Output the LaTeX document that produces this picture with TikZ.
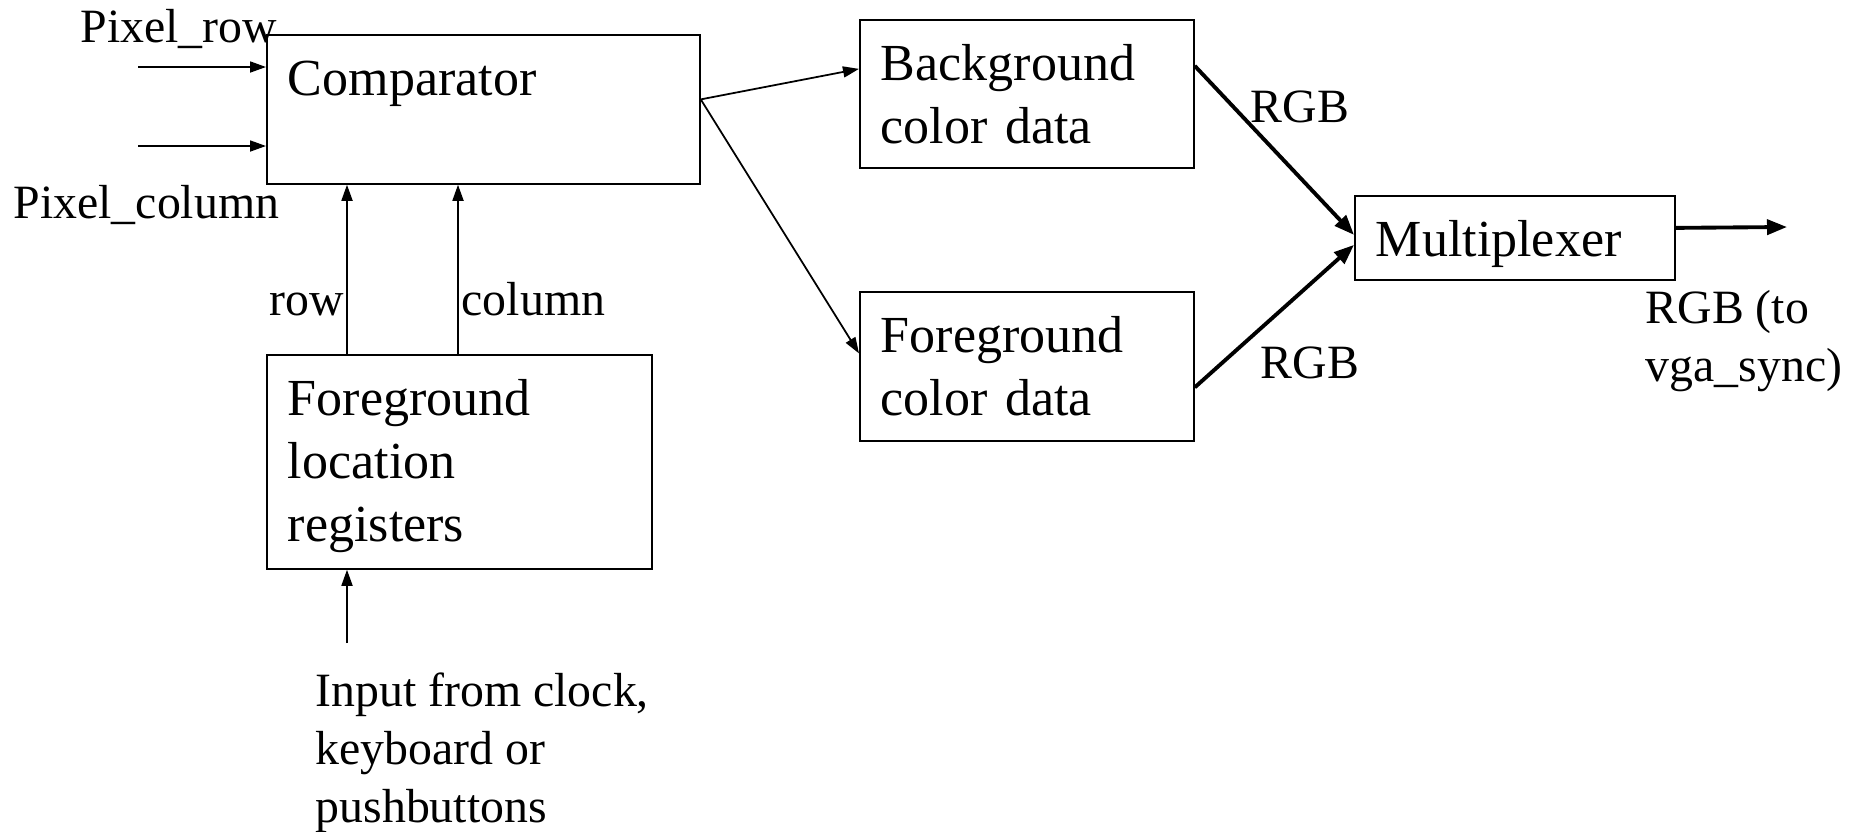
\documentclass[tikz,border=0pt]{standalone}
\usepackage{fontspec}
\setmainfont{Liberation Serif}
\usetikzlibrary{arrows.meta}
\newcommand{\bigtxt}{\fontsize{14.8pt}{17.9pt}\selectfont}
\newcommand{\smalltxt}{\fontsize{13.6pt}{16.5pt}\selectfont}
\tikzset{
  blk/.style={draw, line width=0.5pt, anchor=north west, align=left,
    inner xsep=0.21cm, inner ysep=0pt, text height=0.61cm, font=\bigtxt},
  lbl/.style={anchor=base west, inner sep=0pt, align=left, font=\smalltxt},
  sig/.style={-{Triangle[length=0.16cm, width=0.11cm]}, line width=0.5pt},
  bus/.style={-{Triangle[length=0.2cm, width=0.15cm]}, line width=1.1pt},
}

\begin{document}
\begin{tikzpicture}
    \useasboundingbox (0,0) rectangle (18.62,-8.31);
    % blocks
    \node[blk, text width=3.91cm, text depth=0.88cm] (cmp) at (2.66,-0.34) {Comparator};
    \node[blk, text width=3.43cm, text depth=1.53cm] (flr) at (2.66,-3.54) {Foreground\\location\\registers};
    \node[blk, text width=2.92cm, text depth=0.87cm] (bg) at (8.59,-0.19) {Background\\color data};
    \node[blk, text width=2.92cm, text depth=0.88cm] (fg) at (8.59,-2.91) {Foreground\\color data};
    \node[blk, text width=2.78cm, text depth=0.23cm] (mux) at (13.54,-1.95) {Multiplexer};
    % free ends
    \coordinate (prow) at (1.38,-0.67);
    \coordinate (pcol) at (1.38,-1.46);
    \coordinate (kbd) at (3.47,-6.43);
    \coordinate (vga) at (17.87,-2.27);
    % inputs
    \draw[sig] (prow) -- (prow -| cmp.west);
    \draw[sig] (pcol) -- (pcol -| cmp.west);
    \draw[sig] ([xshift=0.81cm]flr.north west) -- ([xshift=0.81cm]cmp.south west);
    \draw[sig] ([xshift=1.92cm]flr.north west) -- ([xshift=1.92cm]cmp.south west);
    \draw[sig] (kbd) -- (kbd |- flr.south);
    \draw[sig] ([yshift=0.1cm]cmp.east) -- ([yshift=0.25cm]bg.west);
    \draw[sig] ([yshift=0.1cm]cmp.east) -- ([yshift=0.13cm]fg.west);
    % rgb buses
    \draw[bus] ([yshift=0.28cm]bg.east) -- ([yshift=0.03cm]mux.west);
    \draw[bus] ([yshift=-0.21cm]fg.east) -- ([yshift=-0.07cm]mux.west);
    \draw[bus] ([yshift=0.1cm]mux.east) -- (vga);
    % labels (multi-line ones sit on their last line)
    \node[lbl] (lprow) at (0.80,-0.42) {Pixel\_row};
    \node[lbl] (lpcol) at (0.13,-2.18) {Pixel\_column};
    \node[lbl] (lrow) at (2.69,-3.15) {row};
    \node[lbl] (lcol) at (4.61,-3.15) {column};
    \node[lbl] (lkbd) at (3.15,-8.22) {Input from clock,\\keyboard or\\pushbuttons};
    \node[lbl] (lrgb1) at (12.50,-1.22) {RGB};
    \node[lbl] (lrgb2) at (12.60,-3.78) {RGB};
    \node[lbl] (lvga) at (16.45,-3.81) {RGB (to\\vga\_sync)};
\end{tikzpicture}
\end{document}
